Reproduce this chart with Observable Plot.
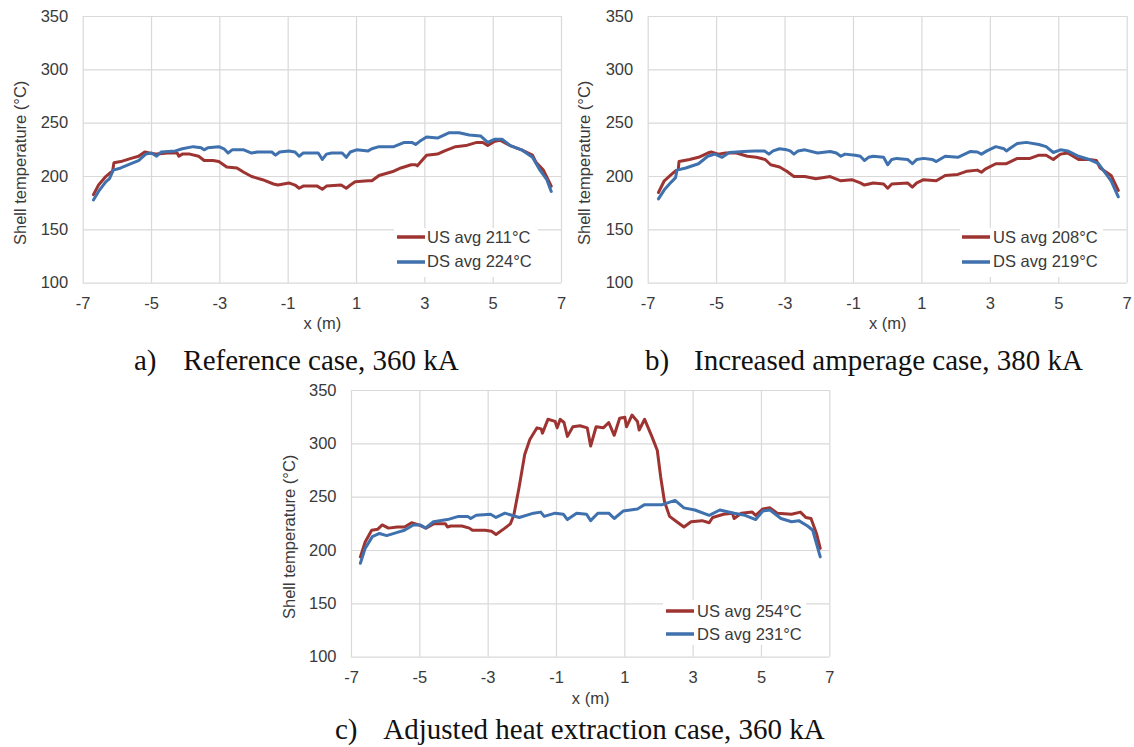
<!DOCTYPE html>
<html><head><meta charset="utf-8">
<script src="https://cdn.jsdelivr.net/npm/d3@7"></script>
<script src="https://cdn.jsdelivr.net/npm/@observablehq/plot@0.6"></script>
<style>
body{margin:0;background:#fff;}
#page{position:relative;width:1134px;height:747px;overflow:hidden;background:#fff;font-family:"Liberation Sans",Arial,sans-serif;}
.panel{position:absolute;width:570px;height:340px;}
.legend{position:absolute;background:#fff;}
.row{position:absolute;display:flex;align-items:center;height:24px;font-size:16.5px;color:#3a3a3a;white-space:nowrap;}
.row svg{display:block;}
.cap{position:absolute;font-family:"Liberation Serif","Times New Roman",serif;font-size:29px;line-height:29px;color:#111;white-space:nowrap;}
</style></head><body><div id="page"></div>
<script>
// ---------- data ----------
const xTicks = [-7,-5,-3,-1,1,3,5,7];
const yTicks = [100,150,200,250,300,350];
const xTitle = "x (m)";
const yTitle = "Shell temperature (°C)";

// a) Reference case
const aUS_x = [-6.7,-6.55,-6.34,-6.23,-6.14,-6.1,-5.9,-5.6,-5.38,-5.2,-5.06,-4.85,-4.52,-4.25,-4.2,-4.1,-3.88,-3.62,-3.46,-3.2,-3.03,-2.8,-2.5,-2.3,-2.07,-1.75,-1.43,-1.3,-0.98,-0.8,-0.68,-0.56,-0.15,0,0.12,0.55,0.7,0.82,0.96,1.34,1.45,1.66,2.09,2.3,2.6,2.73,2.78,3.05,3.37,3.58,3.9,4.2,4.52,4.7,4.84,5.05,5.2,5.5,5.83,6.15,6.26,6.47,6.7];
const aUS_t = [183,192,200,203,205,213,214,217,219,223,222,221,222,222,219,221,221,219,215,215,214,209,208,204,200,197,193,192,194,192,189,191,191,188,191,192,189,192,195,196,196,201,205,208,211,211,210,220,221,224,228,229,232,232,229,233,234,229,225,220,213,206,191];
const aDS_x = [-6.7,-6.55,-6.34,-6.23,-6.12,-5.9,-5.6,-5.38,-5.17,-5.0,-4.85,-4.72,-4.3,-4.1,-3.78,-3.55,-3.46,-3.35,-3.03,-2.88,-2.76,-2.64,-2.3,-2.07,-1.9,-1.64,-1.48,-1.37,-1.25,-0.98,-0.8,-0.68,-0.56,-0.37,-0.12,0,0.12,0.27,0.58,0.7,0.82,1.0,1.34,1.45,1.66,2.09,2.4,2.62,2.73,2.85,3.05,3.37,3.7,4.0,4.3,4.63,4.84,5.05,5.26,5.5,5.83,6.15,6.37,6.57,6.7];
const aDS_t = [178,186,195,198,206,208,212,215,221,222,219,223,224,226,228,227,225,227,228,226,222,225,225,222,223,223,223,220,223,224,223,219,222,222,222,216,221,222,222,218,223,225,224,226,228,228,232,232,230,233,237,236,241,241,239,238,232,235,235,229,225,218,206,197,186];

// b) Increased amperage case
const bUS_x = [-6.7,-6.53,-6.32,-6.21,-6.12,-6.1,-5.79,-5.53,-5.26,-5.16,-4.95,-4.74,-4.42,-4.1,-3.84,-3.58,-3.42,-3.16,-2.95,-2.74,-2.42,-2.1,-1.68,-1.37,-1.05,-0.8,-0.68,-0.42,-0.12,0,0.12,0.58,0.72,0.85,1.05,1.42,1.68,2.05,2.32,2.62,2.74,2.85,3.16,3.47,3.79,4.16,4.42,4.63,4.84,5.05,5.26,5.58,5.89,6.1,6.21,6.53,6.74];
const bUS_t = [185,196,202,205,207,214,216,218,222,223,221,222,222,219,218,216,211,209,205,200,200,198,200,196,197,194,192,194,193,189,193,194,190,194,197,196,201,202,205,206,204,207,212,212,217,217,220,220,216,221,222,216,216,215,208,201,187];
const bDS_x = [-6.7,-6.53,-6.32,-6.2,-6.16,-5.9,-5.53,-5.26,-5.05,-4.84,-4.63,-4.21,-3.89,-3.6,-3.47,-3.35,-3.16,-2.95,-2.85,-2.74,-2.62,-2.42,-2.05,-1.68,-1.5,-1.37,-1.25,-0.95,-0.8,-0.68,-0.56,-0.42,-0.12,0,0.12,0.26,0.58,0.72,0.85,1.05,1.3,1.42,1.68,2.05,2.42,2.62,2.74,2.9,3.16,3.4,3.47,3.6,3.79,4.05,4.42,4.63,4.84,5.05,5.26,5.58,5.89,6.16,6.32,6.53,6.74];
const bDS_t = [179,187.5,195,199,206,208,212,219,221,218,222.5,223.5,224,224,221,224,226,225,224,221,224,225,222,223.5,222,219,221,220,219,215,218,219,218,211,216,217,216,212,216,217,216,214,219,218,223.5,223,221,224,228,226,224,227,231,232,230,228,222.5,225,224,219,216,212,205,196,181];

// c) Adjusted heat extraction case
const cUS_x = [-6.74,-6.6,-6.41,-6.23,-6.1,-5.92,-5.66,-5.45,-5.24,-5.03,-4.82,-4.6,-4.25,-4.19,-4.1,-3.77,-3.55,-3.46,-3.09,-2.9,-2.77,-2.51,-2.35,-2.25,-2.09,-1.93,-1.78,-1.57,-1.45,-1.41,-1.25,-1.04,-0.98,-0.89,-0.78,-0.68,-0.52,-0.31,-0.1,0,0.16,0.37,0.53,0.69,0.85,1.0,1.05,1.21,1.37,1.42,1.58,1.79,1.95,2.05,2.16,2.31,2.52,2.73,2.94,3.26,3.47,3.57,3.89,4.15,4.2,4.41,4.73,4.83,5.04,5.25,5.46,5.88,6.14,6.3,6.45,6.61,6.72];
const cUS_t = [194,208,219,220,224,221,222,222,226,224,221,225,225,222,223,223,221,219,219,218,215,221,225,233,260,290,304,315,314,310,323,321,315,323,320,307,316,317,315,298,316,315,320,308,324,325,316,327,321,313,323,307,294,269,246,232,227,222,227,228,226,231,234,235,230,235,236,233,239,240,235,234,236,231,230,216,202];
const cDS_x = [-6.74,-6.6,-6.39,-6.18,-5.97,-5.66,-5.45,-5.19,-4.98,-4.84,-4.6,-4.19,-3.87,-3.6,-3.51,-3.35,-2.93,-2.77,-2.51,-2.09,-1.67,-1.46,-1.36,-1.04,-0.8,-0.68,-0.41,-0.12,0,0.21,0.53,0.69,0.95,1.37,1.58,2.1,2.47,2.73,3.05,3.47,3.78,4.2,4.52,4.83,5.04,5.25,5.57,5.88,6.09,6.35,6.5,6.72];
const cDS_t = [188,202,213,216,214,217,219,224,224,221,227,229,232,232,230,233,234,231,235,231,235,236,232,235,234,229,235,234,228,235,235,230,237,239,243,243,247,240,238,233,238,235,233,229,237,238,230,227,228,223,219,194];

const legendA = ["US avg 211°C", "DS avg 224°C"];
const legendB = ["US avg 208°C", "DS avg 219°C"];
const legendC = ["US avg 254°C", "DS avg 231°C"];
const captionLabels = ["a)", "b)", "c)"];
const captionTexts = ["Reference case, 360 kA", "Increased amperage case, 380 kA", "Adjusted heat extraction case, 360 kA"];

// ---------- styling ----------
const RED = "#9E3431";
const BLUE = "#3F71AE";
const GRID = "#d9d9d9";
const TXT = "#3a3a3a";

function rows(xs, ts) { return xs.map((x, i) => ({x, t: ts[i]})); }

function chart(usX, usT, dsX, dsT, mL, mR, titleDx, xTitleDy) {
  return Plot.plot({
    width: 570, height: 340,
    marginLeft: mL, marginRight: mR, marginTop: 16, marginBottom: 57.3,
    style: {fontFamily: '"Liberation Sans", Arial, sans-serif', fontSize: "16.5px", color: TXT, background: "transparent", overflow: "visible"},
    x: {domain: [-7, 7]},
    y: {domain: [100, 350]},
    marks: [
      Plot.gridX({ticks: xTicks, stroke: GRID, strokeOpacity: 1, strokeWidth: 1.2}),
      Plot.gridY({ticks: yTicks, stroke: GRID, strokeOpacity: 1, strokeWidth: 1.2}),
      Plot.axisX({ticks: xTicks, tickSize: 0, tickPadding: 14, tickFormat: d => String(d), label: null}),
      Plot.axisY({ticks: yTicks, tickSize: 0, tickPadding: 15, tickFormat: d => String(d), label: null}),
      Plot.text([xTitle], {text: d => d, frameAnchor: "bottom", dy: xTitleDy, textAnchor: "middle"}),
      Plot.text([yTitle], {text: d => d, frameAnchor: "left", dx: titleDx, dy: 13, rotate: -90, textAnchor: "middle"}),
      Plot.line(rows(usX, usT), {x: "x", y: "t", stroke: RED, strokeWidth: 3}),
      Plot.line(rows(dsX, dsT), {x: "x", y: "t", stroke: BLUE, strokeWidth: 3})
    ]
  });
}

const page = document.getElementById("page");
function place(el, left, top) {
  const d = document.createElement("div");
  d.className = "panel";
  d.style.left = left + "px"; d.style.top = top + "px";
  d.appendChild(el);
  page.appendChild(d);
}
place(chart(aUS_x, aUS_t, aDS_x, aDS_t, 82.7, 9, -62.7, 46), 0, 0);
place(chart(bUS_x, bUS_t, bDS_x, bDS_t, 83.7, 7.3, -63.3, 46), 564, 0);
place(chart(cUS_x, cUS_t, cDS_x, cDS_t, 83, 8.7, -62, 47), 268, 374);

function legend(labels, box, rowYs, lineX, textX) {
  const b = document.createElement("div");
  b.className = "legend";
  Object.assign(b.style, {left: box[0] + "px", top: box[1] + "px", width: box[2] + "px", height: box[3] + "px"});
  page.appendChild(b);
  [RED, BLUE].forEach((c, i) => {
    const r = document.createElement("div");
    r.className = "row";
    r.style.left = lineX + "px";
    r.style.top = (rowYs[i] - 12) + "px";
    r.innerHTML = `<svg width="28" height="8"><line x1="0" y1="4" x2="28" y2="4" stroke="${c}" stroke-width="3.5"/></svg><span style="margin-left:${textX - lineX - 28}px">${labels[i]}</span>`;
    page.appendChild(r);
  });
}
legend(legendA, [394, 228, 144, 49], [237.3, 261.7], 397, 427);
legend(legendB, [960, 228, 143, 49], [237.3, 261.7], 962, 993);
legend(legendC, [663, 600, 143, 45], [611, 634], 666, 697);

const capPos = [[134, 183.3, 346], [645, 694, 346], [335, 383.3, 715]];
captionLabels.forEach((lab, i) => {
  const [lx, tx, top] = capPos[i];
  const a = document.createElement("div");
  a.className = "cap"; a.style.left = lx + "px"; a.style.top = top + "px"; a.textContent = lab;
  const t = document.createElement("div");
  t.className = "cap"; t.style.left = tx + "px"; t.style.top = top + "px"; t.textContent = captionTexts[i];
  page.appendChild(a); page.appendChild(t);
});
</script>
</body></html>
